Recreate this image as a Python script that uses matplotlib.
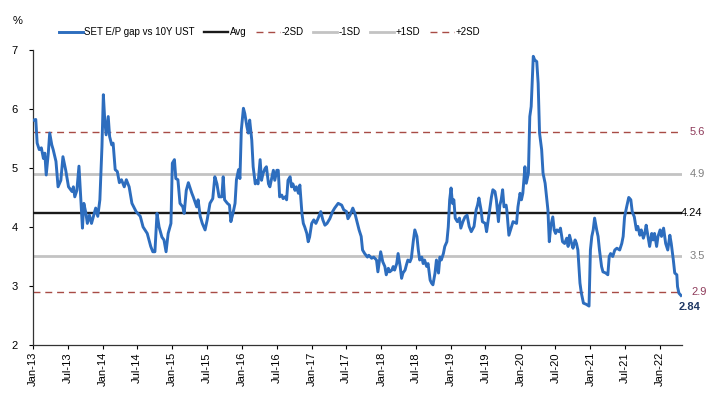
import numpy as np
import matplotlib.pyplot as plt
import matplotlib.dates as mdates
from datetime import datetime, timedelta

plt.rcParams['font.family'] = ['Liberation Sans', 'DejaVu Sans']

# SET E/P gap vs 10Y UST (decimal year, %)
years = [
    2013.01, 2013.04, 2013.06, 2013.09, 2013.12, 2013.15, 2013.17, 2013.19, 2013.22, 2013.24,
    2013.27, 2013.29, 2013.33, 2013.36, 2013.40, 2013.43, 2013.47, 2013.51, 2013.56, 2013.58,
    2013.60, 2013.63, 2013.66, 2013.68, 2013.71, 2013.73, 2013.76, 2013.78, 2013.81, 2013.84,
    2013.88, 2013.90, 2013.93, 2013.96, 2013.99, 2014.01, 2014.03, 2014.05, 2014.08, 2014.10,
    2014.13, 2014.15, 2014.18, 2014.21, 2014.24, 2014.27, 2014.31, 2014.34, 2014.38, 2014.42,
    2014.48, 2014.54, 2014.58, 2014.64, 2014.69, 2014.72, 2014.75, 2014.78, 2014.81, 2014.85,
    2014.88, 2014.91, 2014.94, 2014.98, 2015.00, 2015.03, 2015.05, 2015.08, 2015.11, 2015.15,
    2015.17, 2015.20, 2015.23, 2015.28, 2015.30, 2015.35, 2015.37, 2015.40, 2015.43, 2015.47,
    2015.50, 2015.54, 2015.58, 2015.61, 2015.64, 2015.67, 2015.71, 2015.73, 2015.75, 2015.79,
    2015.82, 2015.84, 2015.87, 2015.90, 2015.92, 2015.95, 2015.97, 2015.99, 2016.02, 2016.04,
    2016.07, 2016.09, 2016.11, 2016.14, 2016.16, 2016.19, 2016.21, 2016.23, 2016.26, 2016.28,
    2016.30, 2016.33, 2016.35, 2016.38, 2016.40, 2016.42, 2016.45, 2016.47, 2016.50, 2016.52,
    2016.54, 2016.57, 2016.59, 2016.62, 2016.64, 2016.66, 2016.69, 2016.71, 2016.73, 2016.76,
    2016.78, 2016.81, 2016.83, 2016.86, 2016.88, 2016.90, 2016.93, 2016.95, 2016.97, 2017.00,
    2017.03, 2017.06, 2017.09, 2017.13, 2017.16, 2017.19, 2017.22, 2017.26, 2017.30, 2017.33,
    2017.38, 2017.43, 2017.46, 2017.50, 2017.52, 2017.55, 2017.59, 2017.62, 2017.65, 2017.68,
    2017.71, 2017.73, 2017.76, 2017.80, 2017.82, 2017.86, 2017.89, 2017.93, 2017.95, 2017.99,
    2018.02, 2018.05, 2018.07, 2018.10, 2018.12, 2018.15, 2018.17, 2018.19, 2018.22, 2018.24,
    2018.27, 2018.29, 2018.31, 2018.34, 2018.36, 2018.38, 2018.41, 2018.43, 2018.46, 2018.48,
    2018.51, 2018.53, 2018.55, 2018.58, 2018.60, 2018.62, 2018.65, 2018.67, 2018.70, 2018.72,
    2018.74, 2018.77, 2018.79, 2018.82, 2018.84, 2018.86, 2018.89, 2018.91, 2018.94, 2018.96,
    2018.98, 2019.00, 2019.02, 2019.04, 2019.06, 2019.09, 2019.12, 2019.14, 2019.17, 2019.20,
    2019.23, 2019.26, 2019.29, 2019.33, 2019.36, 2019.38, 2019.40, 2019.43, 2019.45, 2019.49,
    2019.51, 2019.53, 2019.56, 2019.58, 2019.60, 2019.63, 2019.65, 2019.68, 2019.70, 2019.72,
    2019.74, 2019.76, 2019.79, 2019.80, 2019.83, 2019.87, 2019.89, 2019.94, 2019.96, 2019.99,
    2020.01, 2020.03, 2020.06, 2020.08, 2020.11, 2020.13, 2020.15, 2020.18, 2020.20, 2020.23,
    2020.25, 2020.27, 2020.30, 2020.32, 2020.35, 2020.37, 2020.39, 2020.41, 2020.43, 2020.46,
    2020.48, 2020.50, 2020.52, 2020.55, 2020.57, 2020.60, 2020.63, 2020.66, 2020.68, 2020.70,
    2020.73, 2020.75, 2020.78, 2020.80, 2020.82, 2020.85, 2020.87, 2020.90, 2020.94, 2020.98,
    2021.00, 2021.02, 2021.04, 2021.06, 2021.09, 2021.11, 2021.13, 2021.16, 2021.18, 2021.22,
    2021.25, 2021.27, 2021.29, 2021.32, 2021.35, 2021.38, 2021.42, 2021.45, 2021.47, 2021.49,
    2021.52, 2021.55, 2021.58, 2021.60, 2021.63, 2021.66, 2021.68, 2021.71, 2021.73, 2021.76,
    2021.78, 2021.80, 2021.83, 2021.85, 2021.88, 2021.90, 2021.92, 2021.95, 2021.97, 2022.00,
    2022.02, 2022.05, 2022.08, 2022.11, 2022.14, 2022.16, 2022.19, 2022.21, 2022.24, 2022.25,
    2022.27, 2022.30,
]
ep_gap = [
    5.81, 5.82, 5.42, 5.31, 5.34, 5.16, 5.25, 4.88, 5.25, 5.59,
    5.39, 5.31, 5.11, 4.68, 4.79, 5.19, 4.96, 4.68, 4.60, 4.68,
    4.51, 4.62, 5.03, 4.62, 3.98, 4.40, 4.23, 4.06, 4.20, 4.06,
    4.23, 4.32, 4.18, 4.46, 5.36, 6.24, 5.81, 5.56, 5.87, 5.53,
    5.39, 5.42, 4.97, 4.94, 4.75, 4.80, 4.68, 4.80, 4.68, 4.40,
    4.26, 4.18, 4.00, 3.89, 3.67, 3.58, 3.58, 4.23, 4.00, 3.83,
    3.78, 3.58, 3.89, 4.06, 5.08, 5.14, 4.82, 4.80, 4.40, 4.34,
    4.23, 4.62, 4.75, 4.57, 4.51, 4.34, 4.46, 4.18, 4.06, 3.95,
    4.12, 4.40, 4.48, 4.85, 4.73, 4.51, 4.51, 4.85, 4.46, 4.40,
    4.37, 4.09, 4.23, 4.40, 4.80, 4.97, 4.82, 5.64, 6.01, 5.92,
    5.70, 5.59, 5.81, 5.47, 5.02, 4.73, 4.79, 4.73, 5.14, 4.79,
    4.90, 4.99, 5.02, 4.73, 4.68, 4.79, 4.96, 4.79, 4.96, 4.96,
    4.51, 4.54, 4.48, 4.51, 4.46, 4.79, 4.85, 4.68, 4.73, 4.62,
    4.68, 4.57, 4.71, 4.23, 4.06, 4.00, 3.89, 3.75, 3.83, 4.06,
    4.12, 4.06, 4.14, 4.26, 4.12, 4.03, 4.06, 4.14, 4.26, 4.32,
    4.40, 4.37, 4.29, 4.26, 4.14, 4.20, 4.32, 4.23, 4.09, 3.95,
    3.84, 3.61, 3.55, 3.49, 3.52, 3.47, 3.49, 3.44, 3.24, 3.58,
    3.41, 3.33, 3.19, 3.30, 3.24, 3.27, 3.33, 3.27, 3.38, 3.55,
    3.33, 3.13, 3.22, 3.27, 3.36, 3.44, 3.41, 3.47, 3.78, 3.95,
    3.84, 3.61, 3.44, 3.49, 3.38, 3.44, 3.33, 3.38, 3.10, 3.05,
    3.02, 3.22, 3.44, 3.22, 3.49, 3.44, 3.55, 3.67, 3.75, 4.00,
    4.46, 4.66, 4.40, 4.46, 4.15, 4.09, 4.15, 3.98, 4.09, 4.17,
    4.20, 4.01, 3.92, 4.01, 4.29, 4.37, 4.49, 4.29, 4.09, 4.06,
    3.92, 4.09, 4.34, 4.51, 4.63, 4.60, 4.46, 4.09, 4.37, 4.46,
    4.63, 4.34, 4.37, 4.29, 3.86, 4.01, 4.09, 4.06, 4.34, 4.57,
    4.46, 4.57, 5.02, 4.74, 4.91, 5.87, 6.04, 6.89, 6.83, 6.80,
    6.43, 5.59, 5.31, 4.91, 4.74, 4.51, 4.29, 3.75, 4.01, 4.17,
    3.95, 3.89, 3.95, 3.92, 3.98, 3.75, 3.72, 3.81, 3.67, 3.86,
    3.72, 3.64, 3.78, 3.72, 3.61, 3.05, 2.88, 2.71, 2.69, 2.66,
    3.61, 3.84, 3.95, 4.15, 3.95, 3.84, 3.61, 3.33, 3.24, 3.22,
    3.19, 3.50, 3.55, 3.50, 3.61, 3.64, 3.61, 3.72, 3.84, 4.17,
    4.34, 4.50, 4.46, 4.26, 4.17, 3.95, 4.01, 3.86, 3.95, 3.81,
    3.89, 4.03, 3.81, 3.67, 3.89, 3.78, 3.89, 3.67, 3.84, 3.95,
    3.84, 3.98, 3.72, 3.61, 3.86, 3.72, 3.44, 3.22, 3.19, 2.99,
    2.88, 2.84,
]

avg = 4.24
minus_1sd = 3.5
plus_1sd = 4.9
minus_2sd = 2.9
plus_2sd = 5.6
last_value = 2.84


def to_date(y):
    return datetime(2013, 1, 1) + timedelta(days=(y - 2013) * 365.25)


dates = [to_date(y) for y in years]

BLUE = '#2D6DBE'
MAROON = '#A84B45'
GREY = '#C3C3C3'

fig = plt.figure(figsize=(7.2, 4.05), dpi=100)
ax = fig.add_axes([0.0458, 0.148, 0.901, 0.729])

ax.plot(dates, ep_gap, color=BLUE, lw=2.1, label='SET E/P gap vs 10Y UST', zorder=5)
ax.axhline(avg, color='#1a1a1a', lw=1.7, label='Avg', zorder=3)
ax.axhline(minus_2sd, color=MAROON, lw=1.0, ls=(0, (5, 3.5)), label='-2SD', zorder=2)
ax.axhline(minus_1sd, color=GREY, lw=2.0, label='-1SD', zorder=2)
ax.axhline(plus_1sd, color=GREY, lw=2.0, label='+1SD', zorder=2)
ax.axhline(plus_2sd, color=MAROON, lw=1.0, ls=(0, (5, 3.5)), label='+2SD', zorder=2)

ax.set_xlim(datetime(2013, 1, 1), to_date(2022.31))
ax.set_ylim(2, 7)
ax.set_yticks([2, 3, 4, 5, 6, 7])

ax.xaxis.set_major_locator(mdates.MonthLocator(bymonth=[1, 7]))
ax.xaxis.set_major_formatter(mdates.DateFormatter('%b-%y'))
ax.tick_params(axis='x', labelrotation=90, labelsize=8, length=3, direction='out', pad=2)
ax.tick_params(axis='y', labelsize=8, length=3, direction='out', pad=8)

for s in ['top', 'right']:
    ax.spines[s].set_visible(False)
for s in ['left', 'bottom']:
    ax.spines[s].set_color('#333333')
    ax.spines[s].set_linewidth(0.9)

# right-hand value labels
trans = ax.get_yaxis_transform()
labels = [
    (plus_2sd, '5.6', '#8E3A5A', 6),
    (plus_1sd, '4.9', '#7F7F7F', 6),
    (avg, '4.24', '#000000', -1),
    (minus_1sd, '3.5', '#7F7F7F', 6),
    (minus_2sd, '2.9', '#8E3A5A', 7),
]
for val, txt, col, dx in labels:
    ax.annotate(txt, xy=(1.0, val), xycoords=trans, xytext=(dx, 0),
                textcoords='offset points', ha='left', va='center',
                fontsize=8, color=col, annotation_clip=False)
ax.annotate(f'{last_value:.2f}', xy=(1.0, 2.64), xycoords=trans, xytext=(-2, 0),
            textcoords='offset points', ha='left', va='center',
            fontsize=8, color='#1F3864', fontweight='bold', annotation_clip=False)

fig.text(0.018, 0.948, '%', fontsize=8, ha='left', va='center')

ax.legend(loc='center', bbox_to_anchor=(0.374, 0.921), bbox_transform=fig.transFigure,
          ncol=6, frameon=False, fontsize=7, handlelength=2.5, handletextpad=0.15,
          columnspacing=0.95)

fig.savefig('out.png', dpi=100)
